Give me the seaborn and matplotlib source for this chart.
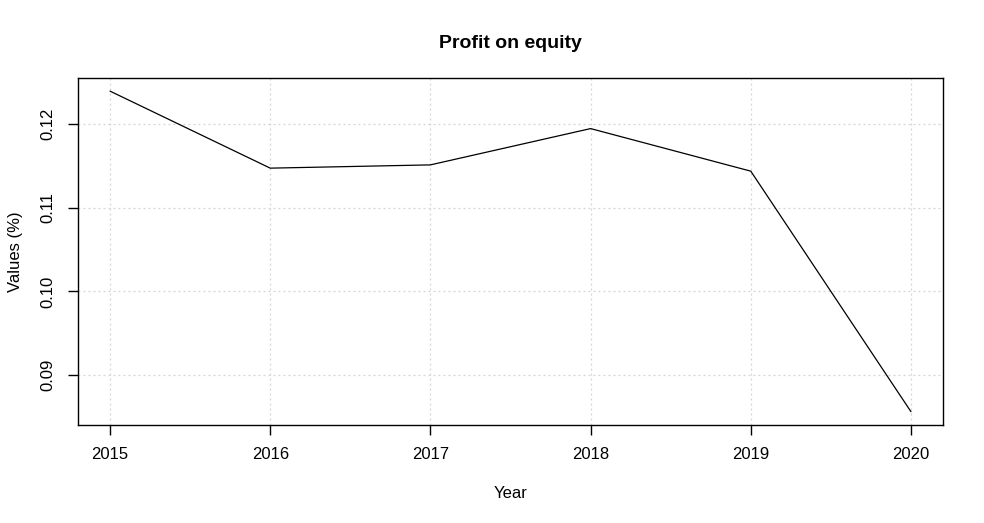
import matplotlib
matplotlib.use("Agg")
import matplotlib.pyplot as plt
import seaborn as sns
import pandas as pd

years = [2015, 2016, 2017, 2018, 2019, 2020]
values = [0.12395, 0.11474, 0.11513, 0.11947, 0.11438, 0.08562]
y_ticks = [0.09, 0.10, 0.11, 0.12]
y_tick_labels = ["0.09", "0.10", "0.11", "0.12"]

sns.set_style("white")
plt.rcParams['font.family'] = ['Liberation Sans', 'DejaVu Sans']
plt.rcParams['text.color'] = 'black'
plt.rcParams['axes.labelcolor'] = 'black'

df = pd.DataFrame({"Year": years, "Value": values})

W, H = 984, 523
fig = plt.figure(figsize=(W / 100, H / 100), dpi=100)
left, right, top, bottom = 78, 943, 78.3, 424.5
ax = fig.add_axes([left / W, 1 - bottom / H, (right - left) / W, (bottom - top) / H])

sns.lineplot(data=df, x="Year", y="Value", ax=ax, color="black", linewidth=0.9)

xr = years[-1] - years[0]
ax.set_xlim(years[0] - 0.04 * xr, years[-1] + 0.04 * xr)
yr = max(values) - min(values)
ax.set_ylim(min(values) - 0.04 * yr, max(values) + 0.04 * yr)

ax.set_xticks(years)
ax.set_xticklabels([str(y) for y in years])
ax.set_yticks(y_ticks)
ax.set_yticklabels(y_tick_labels, rotation=90, va="center")

ax.grid(True, color="#d3d3d3", linestyle=(0, (1.5, 2.5)), linewidth=0.9)
ax.set_axisbelow(True)
for s in ax.spines.values():
    s.set_color("black")
    s.set_linewidth(1.0)

ax.tick_params(axis="both", which="both", direction="out", length=7, width=1,
               color="black", labelsize=12, pad=9, labelcolor="black",
               bottom=True, left=True)

ax.set_xlabel("Year", fontsize=12, color="black", va="center")
ax.set_ylabel("Values (%)", fontsize=12, color="black", va="center")
ax.xaxis.set_label_coords(0.5, (bottom - 493) / (bottom - top))
ax.yaxis.set_label_coords((15 - left) / (right - left), 0.5)
ax.set_title("Profit on equity", fontsize=14, fontweight="bold", color="black",
             y=(bottom - 43) / (bottom - top), va="center", pad=0)

fig.savefig("out.png", dpi=100)
